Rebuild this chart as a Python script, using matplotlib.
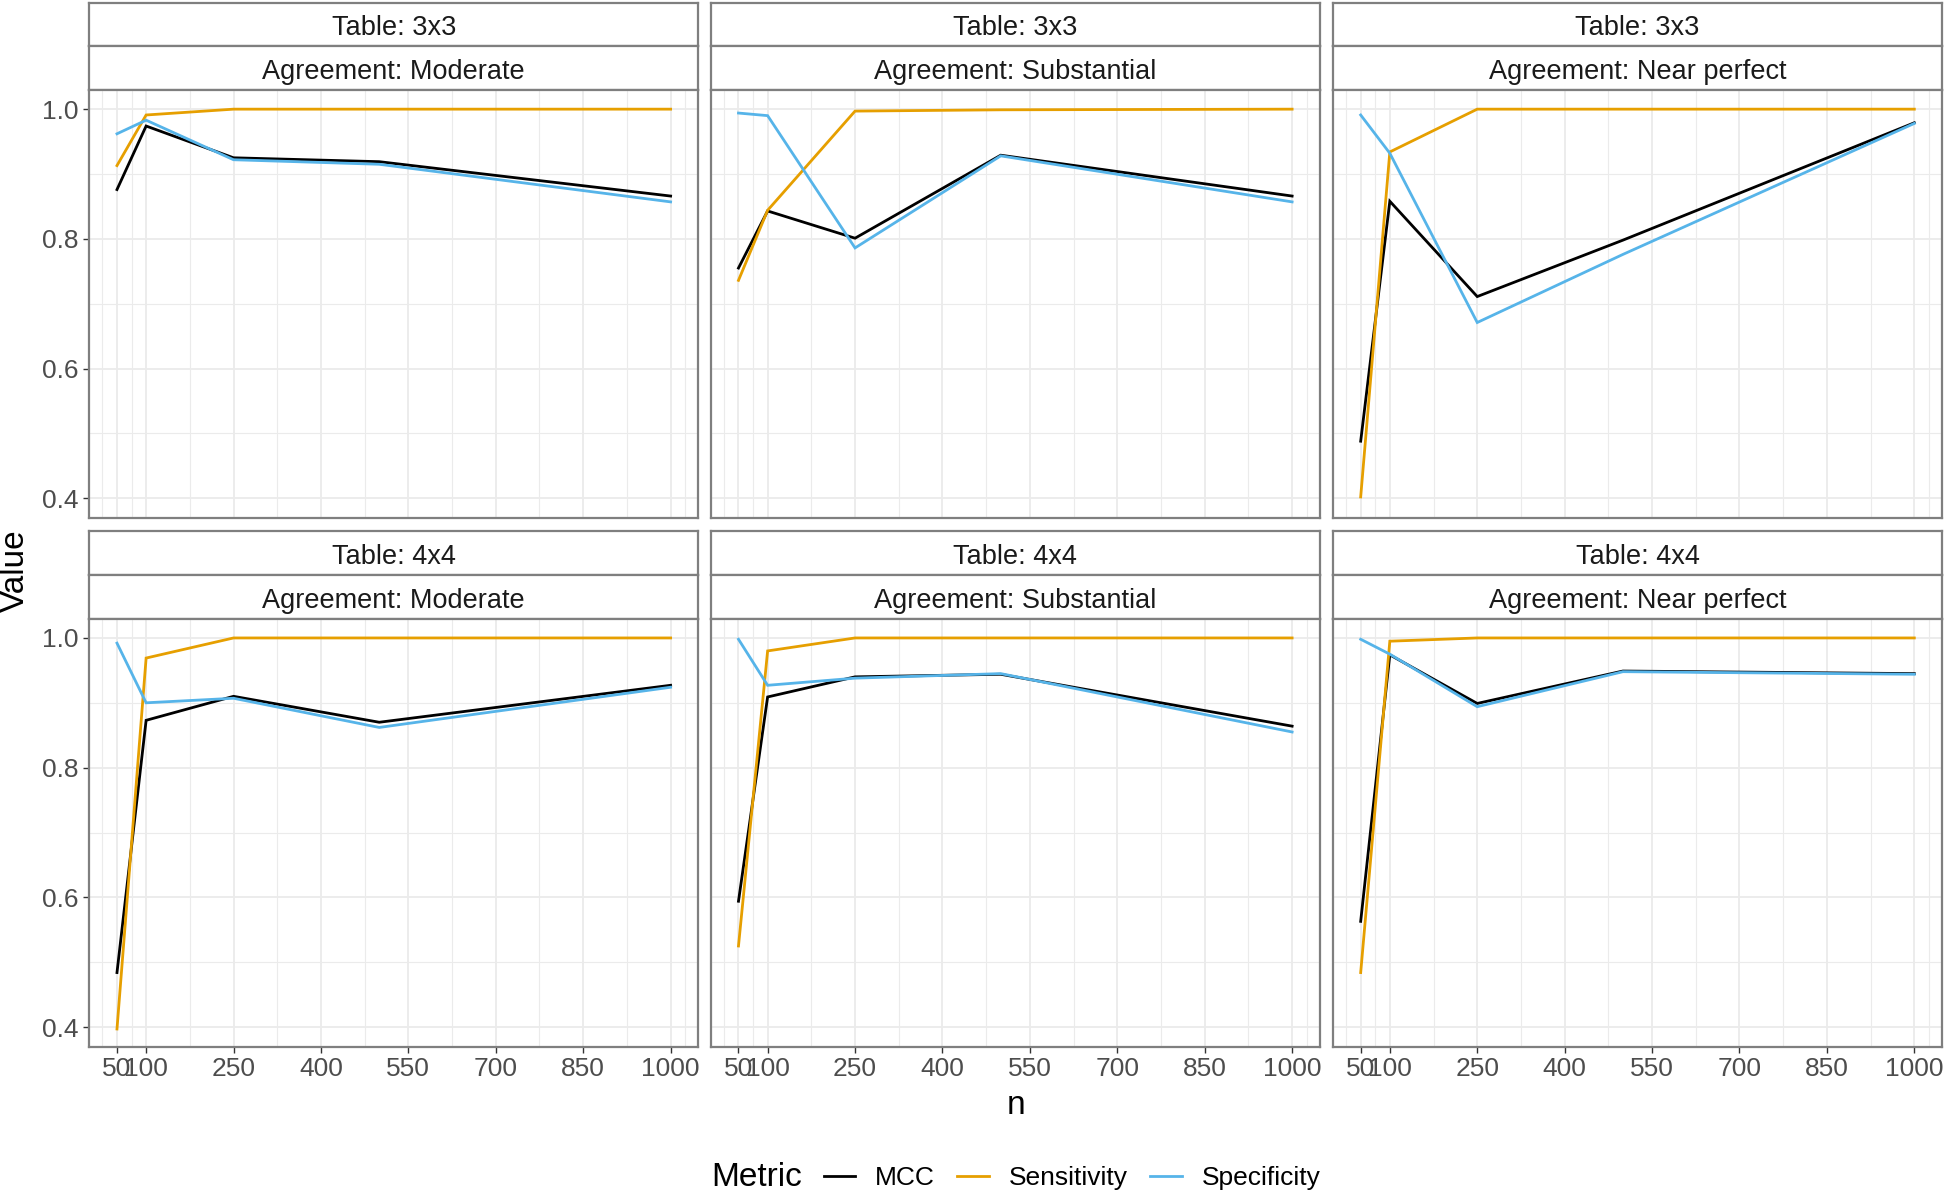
import matplotlib
matplotlib.use('Agg')
import matplotlib.pyplot as plt
from matplotlib.lines import Line2D

plt.rcParams['font.family'] = ['Liberation Sans', 'DejaVu Sans']

# sample sizes
n_values = [50, 100, 250, 500, 1000]
tables = ['3x3', '4x4']
agreements = ['Moderate', 'Substantial', 'Near perfect']
metrics = ['MCC', 'Sensitivity', 'Specificity']
metric_colors = ['#000000', '#E69F00', '#56B4E9']

# Table 3x3
mcc_3x3_moderate = [0.876, 0.974, 0.925, 0.919, 0.866]
sens_3x3_moderate = [0.913, 0.991, 1.000, 1.000, 1.000]
spec_3x3_moderate = [0.962, 0.983, 0.922, 0.915, 0.857]

mcc_3x3_substantial = [0.755, 0.843, 0.801, 0.929, 0.866]
sens_3x3_substantial = [0.736, 0.844, 0.997, 0.999, 1.000]
spec_3x3_substantial = [0.994, 0.990, 0.786, 0.928, 0.857]

mcc_3x3_nearperfect = [0.488, 0.858, 0.711, 0.798, 0.979]
sens_3x3_nearperfect = [0.402, 0.934, 1.000, 1.000, 1.000]
spec_3x3_nearperfect = [0.991, 0.932, 0.671, 0.776, 0.978]

# Table 4x4
mcc_4x4_moderate = [0.484, 0.873, 0.910, 0.870, 0.927]
sens_4x4_moderate = [0.397, 0.969, 1.000, 1.000, 1.000]
spec_4x4_moderate = [0.992, 0.900, 0.907, 0.862, 0.924]

mcc_4x4_substantial = [0.594, 0.909, 0.940, 0.944, 0.864]
sens_4x4_substantial = [0.525, 0.980, 1.000, 1.000, 1.000]
spec_4x4_substantial = [0.998, 0.927, 0.938, 0.945, 0.855]

mcc_4x4_nearperfect = [0.563, 0.974, 0.899, 0.949, 0.945]
sens_4x4_nearperfect = [0.484, 0.995, 1.000, 1.000, 1.000]
spec_4x4_nearperfect = [0.998, 0.975, 0.894, 0.948, 0.944]

panel_data = {
    ('3x3', 'Moderate'): [mcc_3x3_moderate, sens_3x3_moderate, spec_3x3_moderate],
    ('3x3', 'Substantial'): [mcc_3x3_substantial, sens_3x3_substantial, spec_3x3_substantial],
    ('3x3', 'Near perfect'): [mcc_3x3_nearperfect, sens_3x3_nearperfect, spec_3x3_nearperfect],
    ('4x4', 'Moderate'): [mcc_4x4_moderate, sens_4x4_moderate, spec_4x4_moderate],
    ('4x4', 'Substantial'): [mcc_4x4_substantial, sens_4x4_substantial, spec_4x4_substantial],
    ('4x4', 'Near perfect'): [mcc_4x4_nearperfect, sens_4x4_nearperfect, spec_4x4_nearperfect],
}

x_major = [50, 100, 250, 400, 550, 700, 850, 1000]
x_minor = [25, 75, 175, 325, 475, 625, 775, 925, 1025]
y_major = [0.4, 0.6, 0.8, 1.0]
y_minor = [0.5, 0.7, 0.9]

W, H = 1946, 1191
fig = plt.figure(figsize=(W / 100, H / 100), dpi=100)
fig.patch.set_facecolor('white')


def px_rect(left, top, width, height):
    return [left / W, 1 - (top + height) / H, width / W, height / H]


border_col = '#7f7f7f'
panel_lefts = [89.3, 710.8, 1333.0]
panel_w = 609.0
row_tops = [2.7, 531.5]
strip_h = 43.5
panel_h = 428.0

for r, tab in enumerate(tables):
    for c, agr in enumerate(agreements):
        left = panel_lefts[c]
        top = row_tops[r]
        # strips
        for k, label in enumerate(['Table: ' + tab, 'Agreement: ' + agr]):
            sax = fig.add_axes(px_rect(left, top + k * strip_h, panel_w, strip_h))
            sax.set_xticks([])
            sax.set_yticks([])
            for sp in sax.spines.values():
                sp.set_color(border_col)
                sp.set_linewidth(1.6)
            sax.text(0.5, 0.25, label, ha='center', va='baseline', fontsize=19.5,
                     color='#1A1A1A', transform=sax.transAxes)

        ax = fig.add_axes(px_rect(left, top + 2 * strip_h, panel_w, panel_h))
        for vals, name, col in zip(panel_data[(tab, agr)], metrics, metric_colors):
            ax.plot(n_values, vals, color=col, lw=2.0, label=name, zorder=3,
                    solid_joinstyle='miter')
        ax.set_xlim(2.5, 1047.5)
        ax.set_ylim(0.37, 1.03)
        ax.set_xticks(x_major)
        ax.set_xticks(x_minor, minor=True)
        ax.set_yticks(y_major)
        ax.set_yticks(y_minor, minor=True)
        ax.grid(which='major', color='#EBEBEB', lw=1.3, zorder=0)
        ax.grid(which='minor', color='#EBEBEB', lw=0.8, zorder=0)
        ax.set_axisbelow(True)
        ax.tick_params(which='minor', length=0)
        ax.tick_params(which='major', length=4.3, width=1.0, color='#333333',
                       labelsize=19, labelcolor='#4D4D4D', pad=3.5)
        if c == 0:
            ax.set_yticklabels(['0.4', '0.6', '0.8', '1.0'])
        else:
            ax.tick_params(axis='y', left=False, labelleft=False)
        if r == 1:
            ax.set_xticklabels([str(v) for v in x_major])
        else:
            ax.tick_params(axis='x', bottom=False, labelbottom=False)
        for sp in ax.spines.values():
            sp.set_color(border_col)
            sp.set_linewidth(1.6)

# axis titles
fig.text(15 / W, 1 - 571 / H, 'Value', rotation=90, ha='center', va='center',
         fontsize=24, color='black')
fig.text(1016 / W, 1 - 1105 / H, 'n', ha='center', va='center',
         fontsize=24, color='black')

# legend
fig.text(711 / W, 1 - 1178 / H, 'Metric', ha='left', va='center',
         fontsize=24, color='black')
handles = [Line2D([], [], color=col, lw=2.0) for col in metric_colors]
fig.legend(handles, metrics, loc='center left', ncol=3, frameon=False,
           bbox_to_anchor=(823.5 / W, 1 - 1178 / H), fontsize=19,
           handlelength=1.2, handletextpad=0.75, columnspacing=0.85,
           borderpad=0, borderaxespad=0)

fig.savefig('out.png', dpi=100, facecolor='white')
